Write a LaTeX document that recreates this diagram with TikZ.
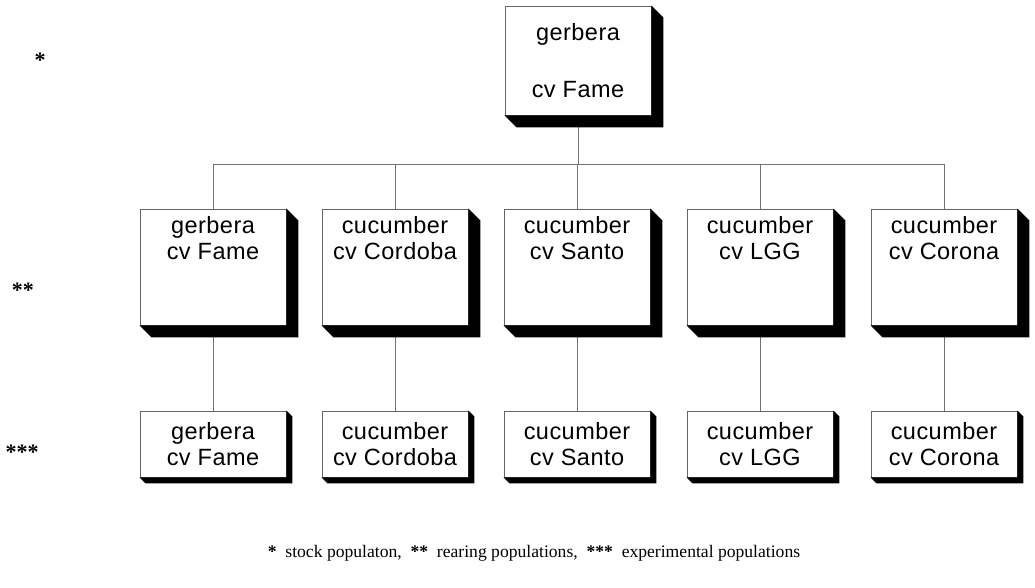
\documentclass[tikz,border=0pt]{standalone}
\usepackage{fontspec}
\setmainfont{Liberation Serif}
\newfontfamily\boxfont[LetterSpace=2]{Liberation Sans}
\usetikzlibrary{calc}

% black bevelled shadow on the right and lower side of a box
\newcommand{\boxshadow}[2]{%
  \fill[black] (#1.north east) -- ++(#2,#2) -- ($(#1.south east)+(#2,#2)$)
    -- ($(#1.south west)+(#2,#2)$) -- (#1.south west) -- (#1.south east) -- cycle;}

\begin{document}
\begin{tikzpicture}[x=1pt, y=-1pt,
    every node/.style={font=\boxfont\fontsize{23.5}{26}\selectfont},
    popbox/.style={draw=black!60, line width=0.8pt, fill=white, inner sep=0pt,
      minimum width=146pt, align=center},
    link/.style={draw=black!55, line width=0.8pt},
    starmark/.style={font=\rmfamily\bfseries\fontsize{22}{22}\selectfont}]
  \useasboundingbox (0,0) rectangle (1035,587);

  % stock population
  \node[popbox, minimum height=109pt] (stock) at (578,60.5) {gerbera\\[31pt]cv Fame};

  % rearing populations
  \foreach \x/\n/\plant/\cult in {213/r1/gerbera/Fame, 395/r2/cucumber/Cordoba,
      577/r3/cucumber/Santo, 760/r4/cucumber/LGG, 944/r5/cucumber/Corona}
    \node[popbox, minimum height=116pt,
      label={[anchor=north, yshift=-4pt, align=center]north:{\plant\\cv \cult}}]
      (\n) at (\x,267) {};

  % experimental populations
  \foreach \x/\n/\plant/\cult in {213/e1/gerbera/Fame, 395/e2/cucumber/Cordoba,
      577/e3/cucumber/Santo, 760/e4/cucumber/LGG, 944/e5/cucumber/Corona}
    \node[popbox, minimum height=66pt] (\n) at (\x,444) {\plant\\cv \cult};

  % connections
  \coordinate (bus) at (578,164);
  \draw[link] (stock.south) -- (bus);
  \foreach \n in {r1,r2,r3,r4,r5}
    \draw[link] (\n.north) |- (bus);
  \foreach \n/\m in {r1/e1,r2/e2,r3/e3,r4/e4,r5/e5}
    \draw[link] (\n.south) -- (\m.north);

  % shadows
  \foreach \n in {stock,r1,r2,r3,r4,r5}
    {\boxshadow{\n}{12}}
  \foreach \n in {e1,e2,e3,e4,e5}
    {\boxshadow{\n}{6}}

  % level marks and legend
  \node[starmark] (s1) at (40,60) {*};
  \node[starmark] (s2) at (23,290) {**};
  \node[starmark] (s3) at (22,452) {***};
  \node[font=\rmfamily\fontsize{17.6}{20}\selectfont] (legend) at (534,553)
    {\textbf{*}~~stock populaton,~~\textbf{**}~~rearing populations,~~\textbf{***}~~experimental populations};
\end{tikzpicture}
\end{document}
